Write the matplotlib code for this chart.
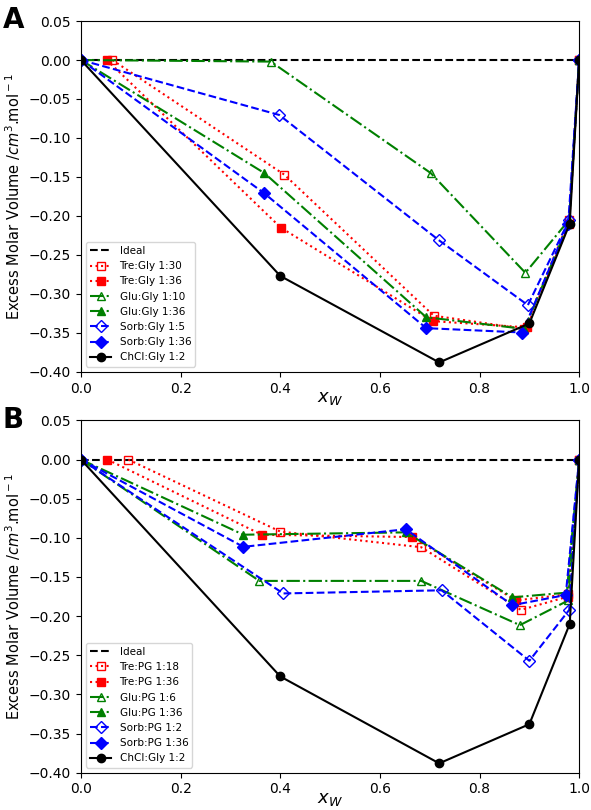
import matplotlib
matplotlib.use('Agg')
import matplotlib.pyplot as plt

# panel A : Gly based DES
xa_tre30 = [0.063, 0.408, 0.708, 0.89, 0.98, 1.0]
ya_tre30 = [0, -0.147, -0.328, -0.345, -0.205, 0]
xa_tre36 = [0.052, 0.401, 0.706, 0.895, 0.98, 1.0]
ya_tre36 = [0, -0.215, -0.335, -0.343, -0.21, 0]
xa_glu10 = [0, 0.381, 0.702, 0.892, 0.98, 1.0]
ya_glu10 = [0, -0.002, -0.145, -0.273, -0.205, 0]
xa_glu36 = [0, 0.368, 0.693, 0.89, 0.98, 1.0]
ya_glu36 = [0, -0.145, -0.330, -0.345, -0.208, 0]
xa_sorb5 = [0, 0.398, 0.718, 0.897, 0.98, 1.0]
ya_sorb5 = [0, -0.0705, -0.231, -0.3145, -0.205, 0]
xa_sorb36 = [0, 0.368, 0.693, 0.886, 0.978, 1.0]
ya_sorb36 = [0, -0.171, -0.344, -0.3496, -0.21, 0]

# panel B : PG based DES
xb_tre18 = [0.095, 0.40, 0.683, 0.883, 0.978, 1.0]
yb_tre18 = [0, -0.092, -0.112, -0.192, -0.175, 0]
xb_tre36 = [0.053, 0.363, 0.665, 0.873, 0.978, 1.0]
yb_tre36 = [0, -0.096, -0.099, -0.18, -0.172, 0]
xb_glu6 = [0, 0.358, 0.683, 0.881, 0.978, 1.0]
yb_glu6 = [0, -0.155, -0.155, -0.2115, -0.18, 0]
xb_glu36 = [0, 0.326, 0.652, 0.866, 0.975, 1.0]
yb_glu36 = [0, -0.096, -0.093, -0.176, -0.17, 0]
xb_sorb2 = [0, 0.406, 0.724, 0.90, 0.98, 1.0]
yb_sorb2 = [0, -0.171, -0.167, -0.257, -0.192, 0]
xb_sorb36 = [0, 0.326, 0.652, 0.866, 0.973, 1.0]
yb_sorb36 = [0, -0.1115, -0.089, -0.186, -0.173, 0]

# reference ChCl:Gly (both panels)
x_chcl = [0, 0.40, 0.719, 0.90, 0.981, 1.0]
y_chcl = [0, -0.277, -0.388, -0.338, -0.21, 0]

labels_a = ['Tre:Gly 1:30', 'Tre:Gly 1:36', 'Glu:Gly 1:10', 'Glu:Gly 1:36', 'Sorb:Gly 1:5', 'Sorb:Gly 1:36']
labels_b = ['Tre:PG 1:18', 'Tre:PG 1:36', 'Glu:PG 1:6', 'Glu:PG 1:36', 'Sorb:PG 1:2', 'Sorb:PG 1:36']

styles = [('r', ':', 's', 'none'), ('r', ':', 's', 'r'),
          ('g', '-.', '^', 'none'), ('g', '-.', '^', 'g'),
          ('b', '--', 'D', 'none'), ('b', '--', 'D', 'b')]


def panel(ax, series, labels):
    ax.plot([0, 1], [0, 0], 'k--', label='Ideal')
    for (x, y), lab, (c, ls, m, fc) in zip(series, labels, styles):
        ax.plot(x, y, color=c, ls=ls, marker=m, mfc=fc, ms=6, label=lab)
    ax.plot(x_chcl, y_chcl, 'k-', marker='o', ms=6, label='ChCl:Gly 1:2')
    ax.set_xlim(0, 1)
    ax.set_ylim(-0.40, 0.05)
    ax.set_xlabel('$x_W$', fontsize=13, labelpad=-5)
    ax.set_ylabel('Excess Molar Volume /$cm^3$.mol$^-$$^1$', fontsize=10.5)
    ax.legend(loc='lower left', prop={'size': 7.5})


fig = plt.figure(figsize=(5.91, 8.10), dpi=100)
ax1 = fig.add_axes([0.137, 0.541, 0.843, 0.433])
ax2 = fig.add_axes([0.137, 0.046, 0.843, 0.435])

panel(ax1, [(xa_tre30, ya_tre30), (xa_tre36, ya_tre36), (xa_glu10, ya_glu10),
            (xa_glu36, ya_glu36), (xa_sorb5, ya_sorb5), (xa_sorb36, ya_sorb36)], labels_a)
panel(ax2, [(xb_tre18, yb_tre18), (xb_tre36, yb_tre36), (xb_glu6, yb_glu6),
            (xb_glu36, yb_glu36), (xb_sorb2, yb_sorb2), (xb_sorb36, yb_sorb36)], labels_b)

fig.text(0.005, 0.965, 'A', fontsize=20, fontweight='bold')
fig.text(0.005, 0.472, 'B', fontsize=20, fontweight='bold')

plt.savefig('out.png', dpi=100)
